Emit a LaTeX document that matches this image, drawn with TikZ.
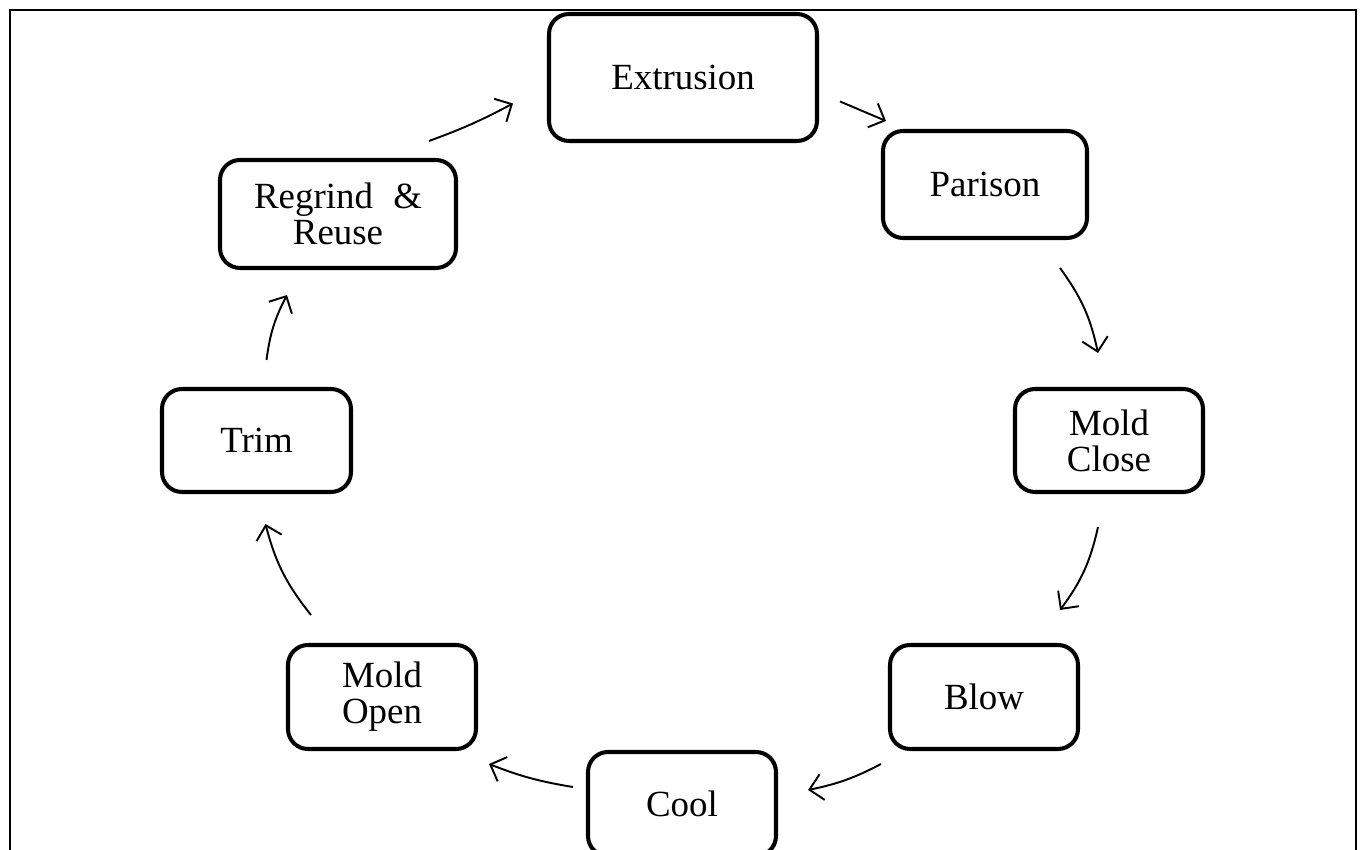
\documentclass[tikz,border=0pt]{standalone}
\usepackage{fontspec}
\setmainfont{Liberation Serif}
\usetikzlibrary{calc,arrows.meta}

\begin{document}
\begin{tikzpicture}[stage/.style={draw,line width=2.3pt,rounded corners=0.4cm,align=center,inner sep=0pt,font=\fontsize{21}{20.5}\selectfont},
                    flow/.style={line width=1.1pt,-{Straight Barb[length=2.6mm,width=5.2mm]}}]
      \useasboundingbox (0,0) rectangle (27.24,17);
      \clip (0,0) rectangle (27.24,17);
      \draw[line width=1.1pt] (0.2,-1) rectangle (27.12,16.8);

      \foreach \id/\x/\y/\w/\h/\txt in {extrusion/13.66/15.45/5.36/2.54/Extrusion,
          parison/19.70/13.31/4.08/2.14/Parison,
          moldclose/22.18/8.19/3.76/2.06/{Mold\\Close},
          blow/19.68/3.06/3.76/2.08/Blow,
          cool/13.64/0.92/3.76/2.08/Cool,
          moldopen/7.64/3.06/3.76/2.08/{Mold\\Open},
          trim/5.13/8.19/3.78/2.06/Trim,
          regrind/6.76/12.72/4.72/2.16/{Regrind\hspace{0.3em} \&\\Reuse}} {
        \node[stage,minimum width=\w cm,minimum height=\h cm] (\id) at (\x,\y) {\txt};
      }

      \draw[flow] ($(regrind.north east)+(-0.58,0.34)$) to[bend right=4] ($(extrusion.west)+(-0.68,-0.52)$);
      \draw[flow] ($(extrusion.east)+(0.42,-0.48)$) -- ($(parison.north west)+(0.10,0.16)$);
      \draw[flow] ($(parison.south east)+(-0.58,-0.56)$) to[bend left=12] ($(moldclose.north)+(-0.22,0.68)$);
      \draw[flow] ($(moldclose.south)+(-0.22,-0.66)$) to[bend left=12] ($(blow.north east)+(-0.40,0.66)$);
      \draw[flow] ($(blow.south west)+(-0.14,-0.26)$) to[bend left=8] ($(cool.east)+(0.60,0.28)$);
      \draw[flow] ($(cool.west)+(-0.26,0.34)$) to[bend left=6] ($(moldopen.south east)+(0.22,-0.26)$);
      \draw[flow] ($(moldopen.north west)+(0.50,0.56)$) to[bend left=12] ($(trim.south)+(0.18,-0.60)$);
      \draw[flow] ($(trim.north)+(0.20,0.54)$) to[bend left=10] ($(regrind.south)+(-1.02,-0.50)$);
\end{tikzpicture}
\end{document}
